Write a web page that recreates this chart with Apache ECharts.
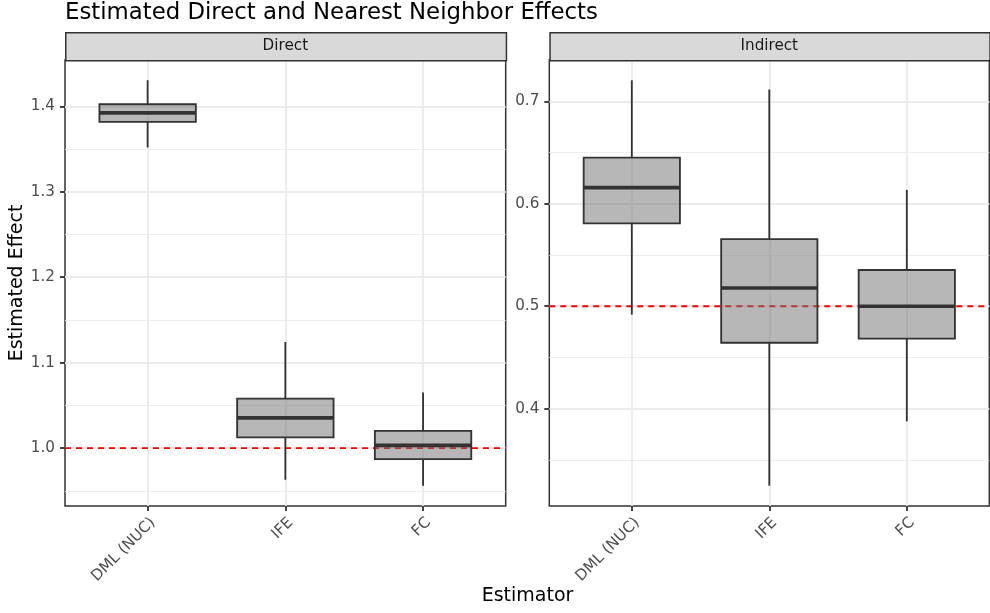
<!DOCTYPE html>
<html>
<head>
<meta charset="utf-8">
<script src="https://cdn.jsdelivr.net/npm/echarts@6/dist/echarts.min.js"></script>
<style>
  html, body { margin: 0; padding: 0; background: #fff; }
  #chart { width: 990px; height: 613px; }
</style>
</head>
<body>
<div id="chart"></div>
<script>
// Estimators shown on the x axis of both panels
const estimators = ['DML (NUC)', 'IFE', 'FC'];

// Box statistics per estimator: [lower whisker, Q1, median, Q3, upper whisker]
const directStats = [
  [1.3518, 1.3818, 1.3923, 1.4023, 1.4304],
  [0.9630, 1.0125, 1.0354, 1.0580, 1.1242],
  [0.9560, 0.9871, 1.0032, 1.0202, 1.0650]
];
const indirectStats = [
  [0.4918, 0.5809, 0.6159, 0.6452, 0.7207],
  [0.3247, 0.4643, 0.5178, 0.5655, 0.7117],
  [0.3876, 0.4684, 0.5000, 0.5354, 0.6136]
];

// True effects (dashed reference lines)
const trueDirect = 1.0;
const trueIndirect = 0.5;

// Axis breaks
const directTicks = [1.0, 1.1, 1.2, 1.3, 1.4];
const directMinor = [0.95, 1.05, 1.15, 1.25, 1.35];
const indirectTicks = [0.4, 0.5, 0.6, 0.7];
const indirectMinor = [0.35, 0.45, 0.55, 0.65];

const panelTitles = ['Direct', 'Indirect'];

const FONT = 'DejaVu Sans';
const INK = '#333333';
const LW = 1.84;

// 5% padding on each side of the data range
function expandRange(stats) {
  let lo = Infinity, hi = -Infinity;
  stats.forEach(s => { lo = Math.min(lo, s[0]); hi = Math.max(hi, s[4]); });
  const pad = (hi - lo) * 0.05;
  return [lo - pad, hi + pad];
}

const estimatorPos = estimators.map((_, i) => i + 1);

const panels = [
  { left: 65, width: 440.7, stats: directStats, ticks: directTicks, minor: directMinor, ref: trueDirect },
  { left: 549.3, width: 440, stats: indirectStats, ticks: indirectTicks, minor: indirectMinor, ref: trueIndirect }
];

const grids = [], xAxes = [], yAxes = [], series = [], graphics = [];

panels.forEach((p, k) => {
  const range = expandRange(p.stats);
  grids.push({
    left: p.left, top: 60, width: p.width, height: 446,
    show: true, borderColor: INK, borderWidth: 1.5, backgroundColor: '#fff',
    containLabel: false, outerBoundsMode: 'none'
  });
  xAxes.push({
    type: 'value', gridIndex: k, min: 0.4, max: 3.6,
    axisLine: { show: false },
    axisTick: { show: true, customValues: estimatorPos, length: 5, lineStyle: { color: INK, width: LW } },
    axisLabel: {
      customValues: estimatorPos, rotate: 45, margin: 9,
      align: 'right', verticalAlign: 'top',
      fontFamily: FONT, fontSize: 15.2, color: '#4D4D4D',
      formatter: v => estimators[Math.round(v) - 1] || ''
    },
    splitLine: { show: true, lineStyle: { color: '#EBEBEB', width: LW } }
  });
  // major breaks with labels
  yAxes.push({
    type: 'value', gridIndex: k, min: range[0], max: range[1],
    axisLine: { show: false },
    axisTick: { show: true, customValues: p.ticks, length: 5, lineStyle: { color: INK, width: LW } },
    axisLabel: {
      customValues: p.ticks, margin: 10,
      fontFamily: FONT, fontSize: 15.2, color: '#4D4D4D',
      formatter: v => v.toFixed(1)
    },
    splitLine: { show: true, lineStyle: { color: '#EBEBEB', width: LW } },
    z: 1
  });
  // minor breaks: grid lines only
  yAxes.push({
    type: 'value', gridIndex: k, min: range[0], max: range[1],
    axisLine: { show: false },
    axisTick: { show: false, customValues: p.minor },
    axisLabel: { show: false },
    splitLine: { show: true, lineStyle: { color: '#EBEBEB', width: LW / 2 } },
    z: 0
  });

  // dashed line at the true effect
  series.push({
    type: 'line', xAxisIndex: k, yAxisIndex: 2 * k,
    data: [[0.4, p.ref], [3.6, p.ref]],
    symbol: 'none', silent: true, z: 2,
    lineStyle: { color: '#FF0000', width: LW, type: [6, 5] }
  });

  // boxplots
  series.push({
    type: 'custom', xAxisIndex: k, yAxisIndex: 2 * k, z: 3, silent: true,
    data: p.stats.map((s, i) => [i + 1].concat(s)),
    renderItem: function (params, api) {
      const x = api.value(0);
      const unit = api.size([1, 0])[0];
      const hw = unit * 0.35;
      const pLow = api.coord([x, api.value(1)]);
      const pQ1 = api.coord([x, api.value(2)]);
      const pMed = api.coord([x, api.value(3)]);
      const pQ3 = api.coord([x, api.value(4)]);
      const pHigh = api.coord([x, api.value(5)]);
      const stroke = { stroke: INK, lineWidth: LW };
      return {
        type: 'group',
        children: [
          { type: 'line', shape: { x1: pQ3[0], y1: pQ3[1], x2: pHigh[0], y2: pHigh[1] }, style: stroke },
          { type: 'line', shape: { x1: pQ1[0], y1: pQ1[1], x2: pLow[0], y2: pLow[1] }, style: stroke },
          { type: 'rect', shape: { x: pQ3[0] - hw, y: pQ3[1], width: 2 * hw, height: pQ1[1] - pQ3[1] },
            style: { fill: 'rgba(112,112,112,0.5)', stroke: INK, lineWidth: LW } },
          { type: 'line', shape: { x1: pMed[0] - hw, y1: pMed[1], x2: pMed[0] + hw, y2: pMed[1] },
            style: { stroke: INK, lineWidth: LW * 2 } }
        ]
      };
    }
  });

  // facet strip
  graphics.push({
    type: 'rect', left: p.left, top: 32,
    shape: { x: 0, y: 0, width: p.width, height: 28 },
    style: { fill: '#D9D9D9', stroke: INK, lineWidth: 1.5 }, z: 10
  });
  graphics.push({
    type: 'text', x: p.left + p.width / 2, y: 46.5,
    style: { text: panelTitles[k], fontFamily: FONT, fontSize: 15.2, fill: '#1A1A1A', align: 'center', verticalAlign: 'middle' },
    z: 11
  });
});

// plot title and shared axis titles
graphics.push({
  type: 'text', x: 65, y: 13,
  style: { text: 'Estimated Direct and Nearest Neighbor Effects', fontFamily: FONT, fontSize: 22.8, fill: '#000', align: 'left', verticalAlign: 'middle' }
});
graphics.push({
  type: 'text', x: 527.5, y: 596,
  style: { text: 'Estimator', fontFamily: FONT, fontSize: 19, fill: '#000', align: 'center', verticalAlign: 'middle' }
});
graphics.push({
  type: 'text', x: 17, y: 283, rotation: Math.PI / 2,
  style: { text: 'Estimated Effect', fontFamily: FONT, fontSize: 19, fill: '#000', align: 'center', verticalAlign: 'middle' }
});

const chart = echarts.init(document.getElementById('chart'), null, { renderer: 'canvas' });
chart.setOption({
  animation: false,
  backgroundColor: '#fff',
  grid: grids,
  xAxis: xAxes,
  yAxis: yAxes,
  series: series,
  graphic: graphics
});
</script>
</body>
</html>
